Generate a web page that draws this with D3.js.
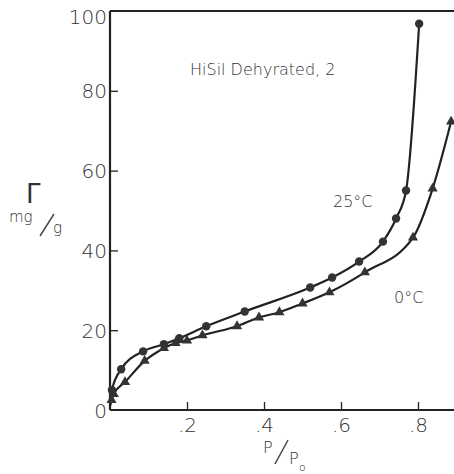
<!DOCTYPE html>
<html lang="en">
<head>
  <meta charset="UTF-8" />
  <script src="https://d3js.org/d3.v7.min.js"></script>
  <style>
    body { margin: 0; background: #fff; }
    text { font-family: "DejaVu Sans", sans-serif; fill: #333; }
  </style>
</head>
<body>
  <svg width="454" height="474"></svg>
  <script>
    // 25°C (circles) and 0°C (triangles)
    const p25 = [0.005, 0.029, 0.086, 0.14, 0.18, 0.25, 0.35, 0.52, 0.577, 0.647, 0.709, 0.743, 0.769, 0.803];
    const g25 = [5, 10.2, 14.7, 16.5, 18, 21, 24.7, 30.7, 33.2, 37.2, 42.2, 48, 55, 96.8];
    const p0 = [0.004, 0.01, 0.039, 0.09, 0.14, 0.17, 0.2, 0.24, 0.33, 0.387, 0.44, 0.5, 0.57, 0.662, 0.787, 0.838, 0.886];
    const g0 = [2.5, 4, 7, 12.3, 15.5, 16.8, 17.4, 18.7, 21, 23.2, 24.5, 26.7, 29.5, 34.5, 43.2, 55.5, 72.3];
    const lineStart = [0, 1];
    const xTicks = [0.2, 0.4, 0.6, 0.8];
    const yTicks = [0, 20, 40, 60, 80, 100];

    const svg = d3.select("svg");
    const x = d3.scaleLinear().domain([0, 0.8]).range([110, 418]);
    const y = d3.scaleLinear().domain([0, 100]).range([410, 11]);
    const right = 454;

    // frame
    svg.append("line").attr("x1", x(0)).attr("x2", right).attr("y1", y(0)).attr("y2", y(0))
      .attr("stroke", "#222").attr("stroke-width", 2.2);
    svg.append("line").attr("x1", x(0)).attr("x2", right).attr("y1", y(100)).attr("y2", y(100))
      .attr("stroke", "#222").attr("stroke-width", 2.2);
    svg.append("line").attr("x1", x(0)).attr("x2", x(0)).attr("y1", y(100)).attr("y2", y(0))
      .attr("stroke", "#222").attr("stroke-width", 2.2);

    // axes, ticks pointing inward
    const xAxis = svg.append("g").attr("transform", `translate(0,${y(0)})`)
      .call(d3.axisTop(x).tickValues(xTicks).tickSize(8).tickFormat(d => d3.format(".1f")(d).replace(/^0/, "")));
    xAxis.select(".domain").remove();
    xAxis.selectAll("line").attr("stroke", "#222").attr("stroke-width", 1.3);
    xAxis.selectAll("text").attr("y", 22).attr("dy", 0).style("font-size", "20px").style("font-weight", "200");

    const yAxis = svg.append("g").attr("transform", `translate(${x(0)},0)`)
      .call(d3.axisRight(y).tickValues(yTicks).tickSize(8));
    yAxis.select(".domain").remove();
    yAxis.selectAll("line").attr("stroke", "#222").attr("stroke-width", 1.3)
      .attr("display", d => (d === 0 || d === 100) ? "none" : null);
    yAxis.selectAll("text").attr("x", -3).attr("text-anchor", "end")
      .attr("dy", d => d === 100 ? "0.6em" : "0.35em")
      .style("font-size", "20px").style("font-weight", "200");

    // curves
    const line = d3.line().x(d => x(d[0])).y(d => y(d[1])).curve(d3.curveMonotoneX);
    const pts25 = p25.map((p, i) => [p, g25[i]]);
    const pts0 = p0.map((p, i) => [p, g0[i]]);
    svg.append("path").attr("d", line([lineStart, ...pts25]))
      .attr("fill", "none").attr("stroke", "#222").attr("stroke-width", 2.2);
    svg.append("path").attr("d", line([lineStart, ...pts0]))
      .attr("fill", "none").attr("stroke", "#222").attr("stroke-width", 2.2);

    svg.selectAll(".c25").data(pts25).enter().append("circle")
      .attr("cx", d => x(d[0])).attr("cy", d => y(d[1])).attr("r", 4.2).attr("fill", "#333");
    const tri = d3.symbol().type(d3.symbolTriangle).size(45);
    svg.selectAll(".t0").data(pts0).enter().append("path")
      .attr("d", tri).attr("transform", d => `translate(${x(d[0])},${y(d[1])})`).attr("fill", "#333");

    // labels
    svg.append("text").attr("x", 190).attr("y", 75).style("font-size", "16px").style("font-weight", "200")
      .text("HiSil Dehyrated, 2");
    svg.append("text").attr("x", 333).attr("y", 207).style("font-size", "16px").style("font-weight", "200").text("25°C");
    svg.append("text").attr("x", 394).attr("y", 303).style("font-size", "16px").style("font-weight", "200").text("0°C");

    // y label: Γ mg/g
    svg.append("text").attr("x", 26).attr("y", 203).style("font-size", "26px").text("Γ");
    svg.append("text").attr("x", 9).attr("y", 222).style("font-size", "15px").style("font-weight", "200").text("mg");
    svg.append("line").attr("x1", 40).attr("y1", 236).attr("x2", 54).attr("y2", 214).attr("stroke", "#444").attr("stroke-width", 1.4);
    svg.append("text").attr("x", 53).attr("y", 233).style("font-size", "15px").style("font-weight", "200").text("g");

    // x label: P/Po
    svg.append("text").attr("x", 263).attr("y", 453).style("font-size", "16px").style("font-weight", "200").text("P");
    svg.append("line").attr("x1", 275).attr("y1", 464).attr("x2", 288).attr("y2", 440).attr("stroke", "#444").attr("stroke-width", 1.5);
    svg.append("text").attr("x", 289).attr("y", 464).style("font-size", "16px").style("font-weight", "200").text("P");
    svg.append("text").attr("x", 299).attr("y", 471).style("font-size", "11px").style("font-weight", "200").text("o");
  </script>
</body>
</html>
